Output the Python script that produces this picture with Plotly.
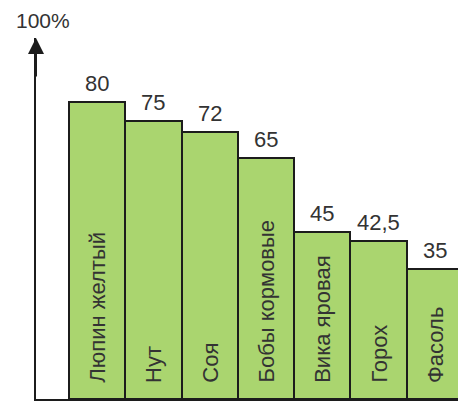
import plotly.graph_objects as go

# Crops and their values (%)
crops = ["Люпин желтый", "Нут", "Соя", "Бобы кормовые",
         "Вика яровая", "Горох", "Фасоль"]
values = [80, 75, 72, 65, 45, 42.5, 35]
axis_label = "100%"

value_text = [f"{v:g}".replace(".", ",") for v in values]
positions = list(range(len(crops)))

FONT = "Liberation Sans, Arial, sans-serif"
GREEN = "#aad56f"
INK = "#1c1c1c"
TEXT = "#333333"

fig = go.Figure()
fig.add_trace(go.Bar(
    x=positions,
    y=values,
    width=1.0,
    marker=dict(color=GREEN, line=dict(color=INK, width=2)),
    hoverinfo="skip",
))

# Value captions above the bars
for pos, val, txt in zip(positions, values, value_text):
    fig.add_annotation(
        x=pos, y=val, xref="x", yref="y",
        text=txt, showarrow=False,
        xanchor="center", yanchor="bottom", yshift=4,
        font=dict(family=FONT, size=22, color=TEXT),
    )

# Crop names written vertically inside each bar, starting near the base
for pos, name in zip(positions, crops):
    fig.add_annotation(
        x=pos, y=0, xref="x", yref="y",
        text=name, textangle=-90,
        xanchor="center", yanchor="bottom", yshift=14,
        showarrow=False,
        font=dict(family=FONT, size=22, color=TEXT),
    )

# Arrow head on the vertical axis and its 100% caption
fig.add_annotation(
    x=0, y=1, xref="paper", yref="paper",
    ax=0, ay=40, axref="pixel", ayref="pixel",
    text="", showarrow=True,
    arrowhead=2, arrowsize=1.6, arrowwidth=2, arrowcolor=INK,
)
fig.add_annotation(
    x=0, y=1, xref="paper", yref="paper",
    text=axis_label, showarrow=False,
    xanchor="center", yanchor="middle", xshift=7, yshift=18,
    font=dict(family=FONT, size=21, color=TEXT),
)

fig.update_layout(
    width=458, height=401,
    margin=dict(l=36, r=0, t=38, b=2),
    paper_bgcolor="white", plot_bgcolor="white",
    showlegend=False,
    bargap=0,
)
fig.update_xaxes(
    range=[-1.086, 6.41], showgrid=False, zeroline=False,
    showticklabels=False, ticks="",
    showline=True, linecolor=INK, linewidth=2,
)
fig.update_yaxes(
    range=[0, 97.3], showgrid=False, zeroline=False,
    showticklabels=False, ticks="",
    showline=True, linecolor=INK, linewidth=2,
)

fig.write_html("out.html")
